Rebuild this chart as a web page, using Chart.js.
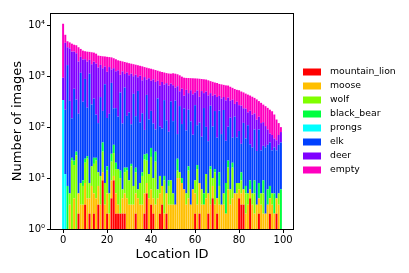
<!DOCTYPE html>
<html>
<head>
<meta charset="utf-8">
<script src="https://cdn.jsdelivr.net/npm/chart.js@4.4.0/dist/chart.umd.min.js"></script>
<style>
  html, body { margin: 0; padding: 0; background: #fff; }
  #wrap { width: 409px; height: 273px; }
</style>
</head>
<body>
<div id="wrap"><canvas id="chart" width="409" height="273"></canvas></div>
<script>
// Images per camera location, split by label (stacked, log scale)
const locationIds = [
  0, 1, 2, 3, 4, 5, 6, 7, 8, 9, 10, 11, 12, 13, 14, 15, 16, 17, 18, 19,
  20, 21, 22, 23, 24, 25, 26, 27, 28, 29, 30, 31, 32, 33, 34, 35, 36, 37, 38, 39,
  40, 41, 42, 43, 44, 45, 46, 47, 48, 49, 50, 51, 52, 53, 54, 55, 56, 57, 58, 59,
  60, 61, 62, 63, 64, 65, 66, 67, 68, 69, 70, 71, 72, 73, 74, 75, 76, 77, 78, 79,
  80, 81, 82, 83, 84, 85, 86, 87, 88, 89, 90, 91, 92, 93, 94, 95, 96, 97, 98, 99
];

const mountainLion = [
  0, 0, 0, 0, 0, 0, 0, 2, 0, 0,   3, 0, 2, 0, 2, 0, 3, 0, 9, 0,
  2, 0, 4, 9, 2, 2, 2, 2, 2, 0,   0, 0, 0, 2, 0, 0, 0, 2, 5, 0,
  3, 2, 0, 0, 2, 3, 0, 2, 0, 0,   0, 0, 0, 0, 0, 0, 0, 0, 0, 0,
  2, 0, 2, 0, 0, 0, 2, 0, 4, 0,   2, 0, 0, 0, 0, 0, 0, 0, 0, 0,
  4, 3, 3, 0, 0, 4, 0, 0, 0, 2,   0, 0, 0, 0, 2, 0, 0, 2, 0, 0
];
const moose = [
  0, 0, 0, 3, 0, 4, 0, 3, 3, 3,   5, 4, 2, 7, 3, 4, 4, 3, 4, 3,
  3, 2, 5, 2, 3, 1, 0, 2, 3, 4,   3, 3, 3, 3, 4, 3, 3, 3, 3, 4,
  3, 2, 3, 4, 3, 4, 2, 3, 3, 3,   3, 3, 10, 10, 8, 6, 3, 4, 3, 6,
  3, 3, 6, 3, 3, 4, 3, 3, 3, 3,   2, 3, 3, 3, 2, 6, 3, 4, 5, 5,
  2, 2, 3, 2, 3, 2, 3, 2, 3, 2,   3, 2, 2, 3, 2, 3, 2, 2, 3, 0
];
const wolf = [
  0, 0, 0, 2, 22, 14, 28, 0, 5, 4,   12, 20, 4, 10, 14, 18, 6, 8, 20, 5,
  9, 3, 12, 20, 10, 12, 8, 2, 8, 10,   6, 14, 4, 8, 2, 5, 8, 18, 14, 8,
  20, 6, 18, 2, 6, 0, 7, 0, 4, 6,   2, 0, 4, 3, 0, 0, 2, 10, 0, 0,
  4, 12, 0, 3, 0, 8, 0, 12, 3, 10,   0, 4, 0, 2, 0, 10, 3, 12, 0, 3,
  2, 4, 0, 3, 2, 0, 2, 3, 0, 0,   2, 3, 0, 0, 0, 2, 0, 0, 2, 0
];
const blackBear = [
  0, 0, 7, 0, 3, 4, 5, 0, 0, 2,   4, 3, 0, 0, 6, 3, 0, 0, 17, 0,
  3, 0, 9, 14, 5, 0, 4, 0, 3, 2,   0, 2, 0, 3, 0, 0, 2, 6, 8, 0,
  13, 0, 12, 0, 0, 0, 2, 0, 2, 0,   0, 0, 10, 0, 2, 0, 0, 3, 0, 0,
  0, 3, 0, 0, 2, 0, 0, 2, 0, 2,   0, 6, 0, 0, 6, 6, 0, 4, 0, 0,
  0, 4, 0, 2, 0, 3, 0, 4, 0, 4,   0, 4, 0, 3, 3, 0, 3, 0, 0, 6
];
const prongs = [
  340, 12, 0, 0, 0, 0, 0, 0, 0, 0,   0, 0, 0, 0, 0, 0, 0, 0, 0, 0,
  0, 0, 0, 0, 0, 0, 0, 0, 0, 0,   0, 0, 0, 0, 0, 0, 0, 0, 0, 0,
  0, 0, 0, 0, 0, 0, 0, 0, 0, 0,   0, 0, 0, 0, 0, 0, 0, 0, 0, 0,
  0, 0, 0, 0, 0, 0, 0, 0, 0, 0,   0, 0, 0, 0, 0, 0, 0, 0, 0, 0,
  0, 0, 0, 0, 0, 0, 0, 0, 0, 0,   0, 0, 0, 0, 0, 0, 0, 0, 0, 0
];
const elk = [
  0, 208, 1643, 322, 124, 544, 314, 178, 1156, 306,
  858, 213, 1114, 262, 340, 151, 107, 378, 158, 687,
  134, 178, 707, 189, 216, 146, 466, 112, 584, 150,
  185, 95, 443, 148, 507, 116, 174, 59, 399, 130,
  169, 108, 57, 360, 92, 87, 328, 131, 72, 312,
  126, 330, 49, 246, 105, 227, 81, 202, 127, 65,
  261, 91, 115, 59, 232, 89, 48, 246, 93, 192,
  58, 198, 70, 212, 46, 80, 147, 42, 156, 55,
  76, 34, 115, 53, 104, 37, 35, 81, 31, 82,
  30, 34, 38, 39, 43, 30, 35, 31, 40, 44
];
const deer = [
  590, 4310, 2050, 3183, 2881, 2474, 2473, 1757, 1226, 1815,
  1268, 1690, 968, 1436, 1565, 1589, 1355, 1276, 1222, 860,
  1069, 1327, 623, 1201, 1014, 1144, 585, 1122, 505, 1014,
  851, 1006, 550, 906, 442, 896, 643, 872, 426, 768,
  607, 747, 680, 449, 557, 676, 346, 594, 574, 394,
  534, 262, 562, 246, 455, 182, 454, 246, 400, 369,
  210, 416, 272, 445, 228, 399, 367, 202, 307, 228,
  328, 199, 292, 173, 281, 278, 177, 283, 124, 252,
  186, 218, 114, 170, 86, 164, 135, 95, 106, 70,
  85, 82, 65, 45, 25, 35, 20, 20, 25, 30
];
const empty = [
  9770, 1970, 1150, 1090, 1320, 1110, 1230, 1760, 1040, 1050,
  940, 1100, 910, 1235, 970, 1005, 1065, 835, 1030, 885,
  1180, 860, 980, 815, 900, 745, 935, 710, 795, 670,
  755, 640, 720, 610, 685, 580, 730, 550, 615, 520,
  585, 495, 550, 465, 580, 440, 495, 420, 475, 405,
  475, 525, 455, 535, 410, 520, 385, 455, 385, 470,
  425, 375, 495, 370, 405, 360, 410, 335, 365, 315,
  345, 295, 325, 285, 325, 275, 290, 245, 275, 225,
  260, 235, 245, 225, 240, 207, 220, 190, 210, 164,
  180, 152, 153, 149, 145, 135, 117, 86, 50, 20
];

const speciesNames = ['mountain_lion', 'moose', 'wolf', 'black_bear', 'prongs', 'elk', 'deer', 'empty'];
const speciesColors = ['#ff0000', '#ffbf00', '#80ff00', '#00ff40', '#00ffff', '#0040ff', '#8000ff', '#ff00bf'];
const speciesCounts = [mountainLion, moose, wolf, blackBear, prongs, elk, deer, empty];

const xTicks = [0, 20, 40, 60, 80, 100];
const yTicks = [1, 10, 100, 1000, 10000];
const yTickLabels = ['10⁰', '10¹', '10²', '10³', '10⁴'];

Chart.defaults.font.family = '"DejaVu Sans", sans-serif';
Chart.defaults.color = '#000';

// draws the box round the axes and the legend to the right of it
const frameAndLegend = {
  id: 'frameAndLegend',
  afterDatasetsDraw(chart) {
    const { ctx, chartArea } = chart;
    ctx.save();
    ctx.strokeStyle = '#000';
    ctx.lineWidth = 1;
    ctx.strokeRect(Math.round(chartArea.left) - 0.5, Math.round(chartArea.top) + 0.5,
      Math.round(chartArea.right - chartArea.left) + 1, Math.round(chartArea.bottom - chartArea.top));
    ctx.restore();
  },
  afterDraw(chart) {
    const { ctx, chartArea } = chart;
    ctx.save();
    ctx.font = '9.3px "DejaVu Sans"';
    ctx.textBaseline = 'middle';
    ctx.textAlign = 'left';
    chart.data.datasets.forEach((ds, i) => {
      const y = chartArea.top + 59 + i * 14;
      ctx.fillStyle = ds.backgroundColor;
      ctx.fillRect(chartArea.right + 10, y - 3.5, 18, 7);
      ctx.fillStyle = '#000';
      ctx.fillText(ds.label, chartArea.right + 37, y);
    });
    ctx.restore();
  }
};

new Chart(document.getElementById('chart'), {
  type: 'bar',
  data: {
    labels: locationIds,
    datasets: speciesNames.map((name, i) => ({
      label: name,
      data: speciesCounts[i],
      backgroundColor: speciesColors[i],
      borderWidth: 0,
      inflateAmount: 0,
      barPercentage: 0.9,
      categoryPercentage: 1
    }))
  },
  options: {
    responsive: false,
    animation: false,
    devicePixelRatio: 1,
    layout: { padding: { top: 13, right: 116, bottom: 0, left: 0 } },
    plugins: {
      legend: { display: false },
      tooltip: { enabled: false }
    },
    scales: {
      x: {
        type: 'linear',
        stacked: true,
        offset: false,
        min: -5.5,
        max: 104.5,
        afterBuildTicks: function(scale) {
          scale.ticks = xTicks.map(v => ({ value: v }));
        },
        afterFit: function(scale) {
          scale.height = 44;
        },
        border: { display: false },
        grid: {
          offset: false,
          drawOnChartArea: false,
          drawTicks: true,
          tickLength: 4,
          tickColor: '#000'
        },
        ticks: {
          padding: 1,
          maxRotation: 0,
          font: { size: 10 },
          callback: function(value) {
            return String(value);
          }
        },
        title: {
          display: true,
          text: 'Location ID',
          font: { size: 13 },
          padding: { top: 0, bottom: 11 }
        }
      },
      y: {
        type: 'logarithmic',
        stacked: true,
        min: 1,
        max: 17400,
        afterBuildTicks: function(scale) {
          scale.ticks = yTicks.map(v => ({ value: v }));
        },
        afterFit: function(scale) {
          scale.width = 51;
        },
        border: { display: false },
        grid: {
          drawOnChartArea: false,
          drawTicks: true,
          tickLength: 4,
          tickColor: '#000'
        },
        ticks: {
          padding: 2,
          font: { size: 10 },
          callback: function(value, index) {
            return yTickLabels[index];
          }
        },
        title: {
          display: true,
          text: 'Number of images',
          font: { size: 13 },
          padding: { top: 10, bottom: 0 }
        }
      }
    }
  },
  plugins: [frameAndLegend]
});
</script>
</body>
</html>
